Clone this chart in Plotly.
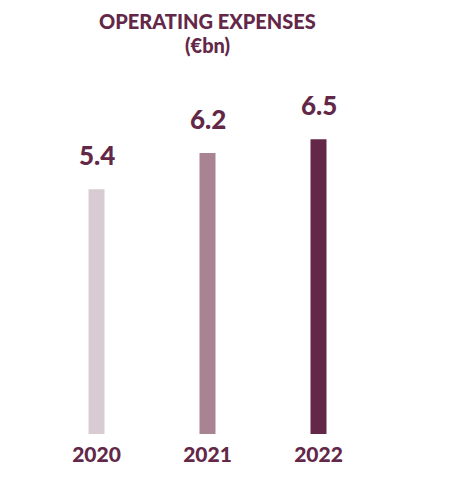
import plotly.graph_objects as go

# Operating expenses, €bn
years = ["2020", "2021", "2022"]
opex = [5.4, 6.2, 6.5]
bar_colors = ["#d9cbd3", "#a88392", "#632848"]
title_lines = ["OPERATING EXPENSES", "(€bn)"]

TEXT = "#632848"
FONT = "Lato"

xpos = list(range(len(years)))

fig = go.Figure()

fig.add_trace(go.Bar(
    x=xpos,
    y=opex,
    width=0.144,
    marker=dict(color=bar_colors, line=dict(width=0)),
    hoverinfo="skip",
))

# value labels above the bars
for xi, v in zip(xpos, opex):
    fig.add_annotation(
        x=xi, y=v, text=f"{v:.1f}",
        showarrow=False, yanchor="bottom", yshift=16,
        font=dict(family=FONT, size=26, color=TEXT, weight=900),
    )

# two-line title, centred over the plot area
for txt, yy in zip(title_lines, [1.2147, 1.144]):
    fig.add_annotation(
        x=0.5, y=yy, xref="paper", yref="paper", text=txt,
        showarrow=False, xanchor="center", yanchor="middle",
        font=dict(family=FONT, size=20, color=TEXT, weight=900),
    )

# page body adds an 8px offset, so margins are shifted to compensate
fig.update_layout(
    width=458, height=497,
    margin=dict(l=33, r=92, t=86, b=71),
    paper_bgcolor="white",
    plot_bgcolor="white",
    showlegend=False,
)

fig.update_xaxes(
    range=[-0.5, 2.5],
    tickmode="array", tickvals=xpos, ticktext=years,
    showgrid=False, zeroline=False, showline=False,
    ticks="outside", ticklen=2, tickcolor="rgba(0,0,0,0)",
    tickfont=dict(family=FONT, size=21, color=TEXT, weight=900),
)
fig.update_yaxes(
    range=[0, 7.5], visible=False, showgrid=False, zeroline=False,
)

fig.write_html("out.html")
